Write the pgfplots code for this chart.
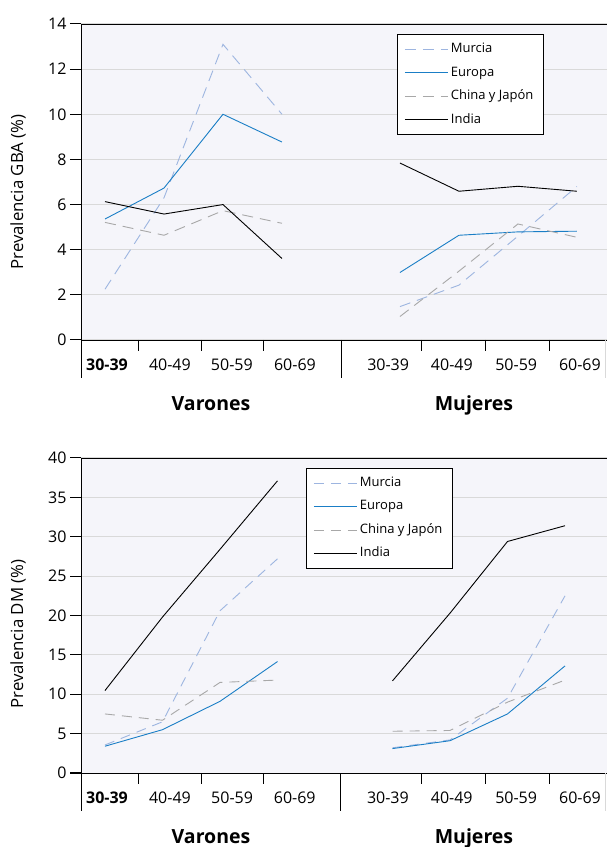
\documentclass[border=0pt]{standalone}
\usepackage{fontspec}
\setmainfont{Open Sans}
\usepackage{pgfplots}
\usepackage{pgfplotstable}
\pgfplotsset{compat=1.18}
\definecolor{murcia}{HTML}{9DB5E0}
\definecolor{europa}{HTML}{1A7EC6}
\definecolor{china}{HTML}{A8A8A8}
\definecolor{bg}{HTML}{F5F5FA}
\definecolor{gridc}{HTML}{D9D9D9}
\newcommand\tickfont{\fontsize{16bp}{19bp}\selectfont}
\newcommand\labfont{\fontsize{16.8bp}{19bp}\selectfont}
\newcommand\legfont{\fontsize{13bp}{15bp}\selectfont}
\newcommand\groupfont{\fontsize{19.5bp}{22bp}\selectfont\bfseries}

\pgfplotstableread{
x murcia europa china india
0 2.25 5.36 5.21 6.13
1 6.3 6.73 4.64 5.58
2 13.1 10.0 5.73 6.0
3 10.0 8.77 5.17 3.61
4 nan nan nan nan
5 1.48 2.99 1.04 7.84
6 2.43 4.64 3.05 6.59
7 4.6 4.79 5.14 6.81
8 6.8 4.82 4.55 6.59
}\gba

\pgfplotstableread{
x murcia europa china india
0 3.56 3.4 7.5 10.47
1 6.5 5.5 6.7 19.8
2 20.6 9.1 11.5 28.4
3 27.2 14.15 11.8 37.1
4 nan nan nan nan
5 3.2 3.1 5.3 11.7
6 4.2 4.1 5.4 20.3
7 9.5 7.5 9.0 29.4
8 22.5 13.6 11.8 31.4
}\dm

\pgfplotsset{
  common/.style={
    scale only axis,
    width=526bp,
    clip=false,
    axis lines=left,
    axis line style={-, black, line width=0.8bp},
    axis background/.style={fill=bg},
    ymajorgrids,
    grid style={gridc, line width=1bp},
    unbounded coords=jump,
    tick style={black, line width=1bp},
    tick align=outside,
    major tick length=11bp,
    xtick style={/pgfplots/major tick length=0pt},
    /pgf/number format/assume math mode=true,
    ticklabel style={font=\tickfont},
    x tick label style={anchor=north, yshift=-4bp},
    xticklabels={\textbf{30-39},40-49,50-59,60-69,30-39,40-49,50-59,60-69},
    legend cell align=left,
    legend style={draw=black, line width=0.8bp, fill=white, font=\legfont,
      inner xsep=7bp, inner ysep=6bp, row sep=6bp,
      nodes={inner sep=2.5bp, text height=9.5bp, text depth=3bp}},
    legend image code/.code={\draw[##1] (0bp,0bp) -- (43bp,0bp);},
  },
  ser/.style={line width=0.9bp, no marks},
}

\begin{document}
\begin{tikzpicture}
\path[use as bounding box] (0,0) rectangle (607bp,847bp);

% ---------- GBA ----------
\begin{axis}[common, at={(81bp,507bp)}, anchor=south west, height=316bp,
  ymin=0, ymax=14, ytick={0,2,...,14},
  xmin=-0.407, xmax=8.51,
  xtick={0.034,1.10,2.15,3.22,4.80,5.88,6.97,8.05},
  legend style={at={(0.601,0.968)}, anchor=north west}]
\addplot[ser, murcia, dash pattern=on 11bp off 7bp] table[x=x,y=murcia]{\gba};
\addlegendentry{Murcia}
\addplot[ser, europa] table[x=x,y=europa]{\gba};
\addlegendentry{Europa}
\addplot[ser, china, dash pattern=on 11bp off 7bp] table[x=x,y=china]{\gba};
\addlegendentry{China y Japón}
\addplot[ser, black] table[x=x,y=india]{\gba};
\addlegendentry{India}
\draw[black, line width=0.8bp] (rel axis cs:0,1) -- (rel axis cs:1,1);
\draw[black, line width=0.8bp] (axis cs:0.56,0) -- ++(0bp,-11bp);
\draw[black, line width=0.8bp] (axis cs:1.63,0) -- ++(0bp,-11bp);
\draw[black, line width=0.8bp] (axis cs:2.68,0) -- ++(0bp,-11bp);
\draw[black, line width=0.8bp] (axis cs:5.36,0) -- ++(0bp,-11bp);
\draw[black, line width=0.8bp] (axis cs:6.44,0) -- ++(0bp,-11bp);
\draw[black, line width=0.8bp] (axis cs:7.53,0) -- ++(0bp,-11bp);
\draw[black, line width=0.8bp] (rel axis cs:0,0) -- ++(0bp,-38bp);
\draw[black, line width=0.8bp] (axis cs:4.0,0) -- ++(0bp,-38bp);
\draw[gridc, line width=1bp] (axis cs:8.49,0) -- ++(0bp,-38bp);
\end{axis}
\foreach \k in {0,...,7} {
  \pgfmathsetmacro\yy{507+\k*316/7}
  \draw[black, line width=1bp] (70bp,\yy bp) -- (81bp,\yy bp);
}
\node[font=\labfont, rotate=90] at (18bp,655bp) {Prevalencia GBA (\%)};
\node[font=\groupfont, anchor=base] at (211bp,436bp) {Varones};
\node[font=\groupfont, anchor=base] at (474bp,436bp) {Mujeres};

% ---------- DM ----------
\begin{axis}[common, at={(81bp,74bp)}, anchor=south west, height=315bp,
  ymin=0, ymax=40, ytick={0,5,...,40},
  xmin=-0.417, xmax=8.73,
  xtick={0.035,1.13,2.21,3.30,4.92,6.03,7.15,8.26},
  legend style={at={(0.428,0.968)}, anchor=north west}]
\addplot[ser, murcia, dash pattern=on 10bp off 7bp] table[x=x,y=murcia]{\dm};
\addlegendentry{Murcia}
\addplot[ser, europa] table[x=x,y=europa]{\dm};
\addlegendentry{Europa}
\addplot[ser, china, dash pattern=on 10bp off 7bp] table[x=x,y=china]{\dm};
\addlegendentry{China y Japón}
\addplot[ser, black] table[x=x,y=india]{\dm};
\addlegendentry{India}
\draw[black, line width=0.8bp] (rel axis cs:0,1) -- (rel axis cs:1,1);
\draw[black, line width=0.8bp] (axis cs:0.574,0) -- ++(0bp,-11bp);
\draw[black, line width=0.8bp] (axis cs:1.67,0) -- ++(0bp,-11bp);
\draw[black, line width=0.8bp] (axis cs:2.75,0) -- ++(0bp,-11bp);
\draw[black, line width=0.8bp] (axis cs:5.50,0) -- ++(0bp,-11bp);
\draw[black, line width=0.8bp] (axis cs:6.61,0) -- ++(0bp,-11bp);
\draw[black, line width=0.8bp] (axis cs:7.72,0) -- ++(0bp,-11bp);
\draw[black, line width=0.8bp] (rel axis cs:0,0) -- ++(0bp,-38bp);
\draw[black, line width=0.8bp] (axis cs:4.10,0) -- ++(0bp,-38bp);
\draw[gridc, line width=1bp] (axis cs:8.71,0) -- ++(0bp,-38bp);
\end{axis}
\foreach \k in {0,...,8} {
  \pgfmathsetmacro\yy{74+\k*315/8}
  \draw[black, line width=1bp] (70bp,\yy bp) -- (81bp,\yy bp);
}
\node[font=\labfont, rotate=90] at (18bp,213bp) {Prevalencia DM (\%)};
\node[font=\groupfont, anchor=base] at (211bp,3.5bp) {Varones};
\node[font=\groupfont, anchor=base] at (474bp,3.5bp) {Mujeres};
\end{tikzpicture}
\end{document}
